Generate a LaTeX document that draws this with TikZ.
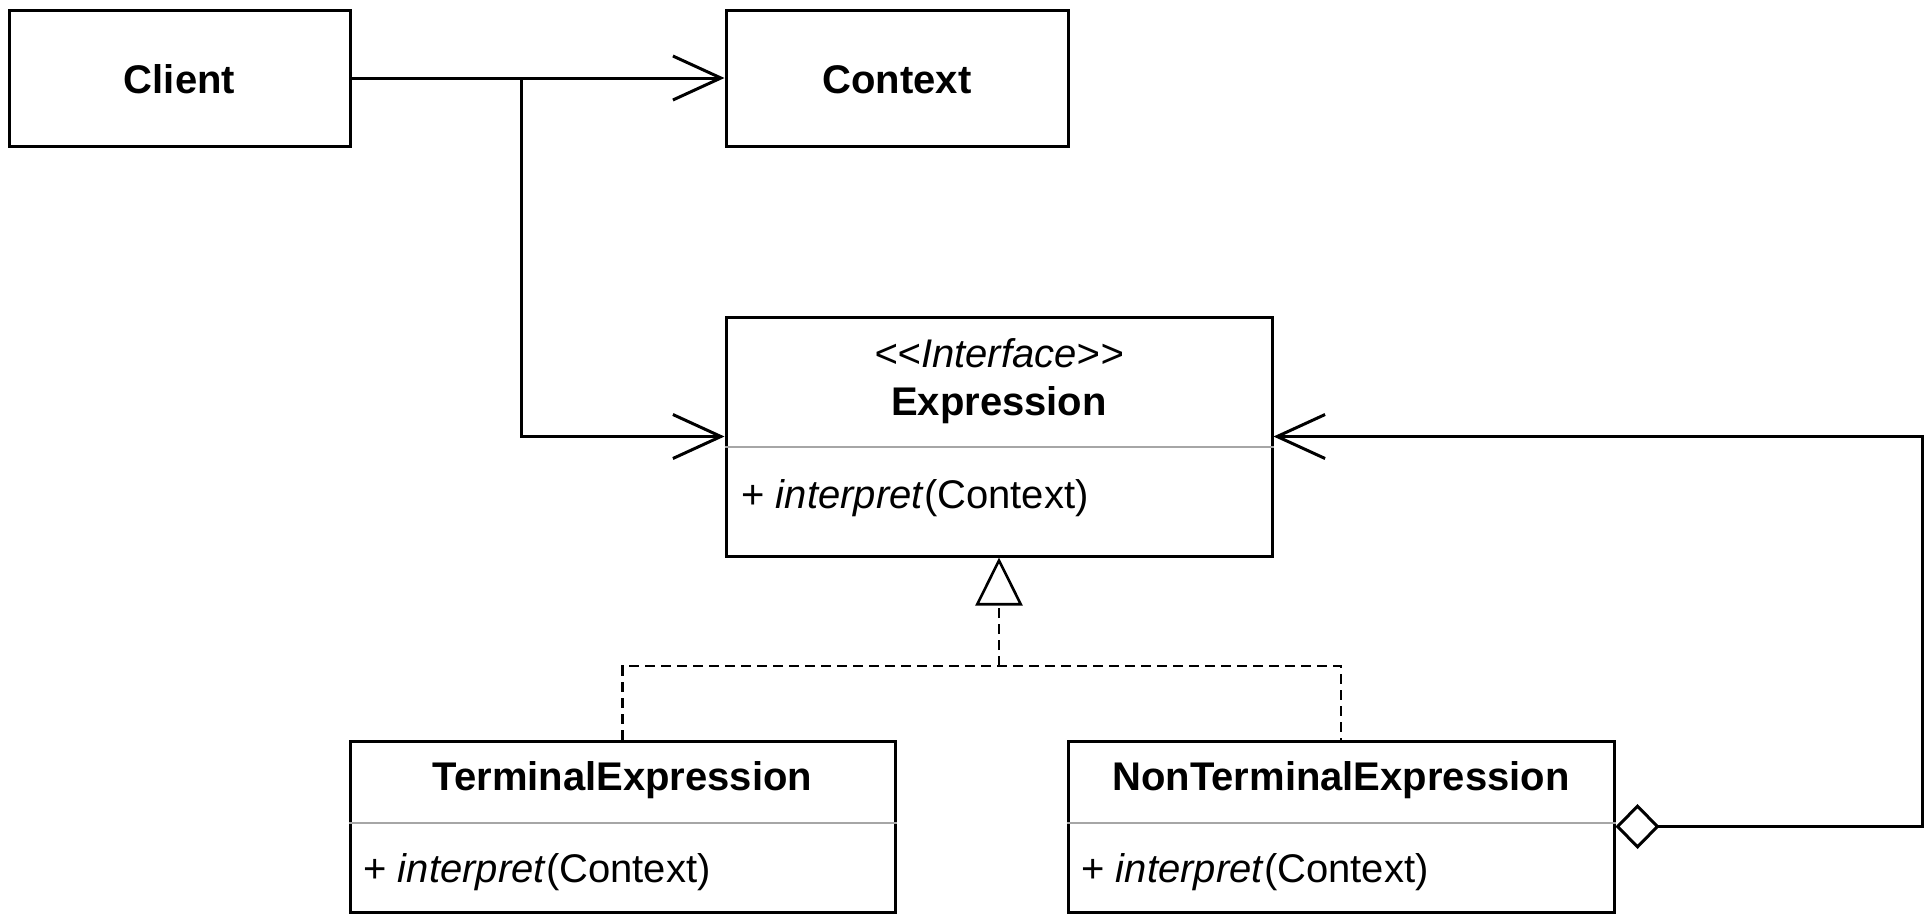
\documentclass[tikz,border=0pt]{standalone}
\usepackage{fontspec}
\setmainfont{Liberation Sans}
\usetikzlibrary{arrows.meta}

\begin{document}
\begin{tikzpicture}[x=0.5pt, y=-0.5pt, line width=1.5pt,
	classbox/.style={draw, shape=rectangle, inner sep=0pt},
	divider/.style={draw=gray!70, line width=1pt},
	title/.style={font=\fontsize{20}{24}\selectfont\bfseries, anchor=base, inner sep=0pt},
	member/.style={font=\fontsize{20}{24}\selectfont, anchor=base west, inner sep=0pt},
	assoc/.style={-{Straight Barb[length=24pt, width=22pt]}},
	realize/.style={dash pattern=on 5pt off 3pt, line width=1.3pt}]
	\useasboundingbox (0, 0) rectangle (1932, 922);
	% Boxes:
	\node[classbox, minimum width=170.5pt, minimum height=68pt] (client) at (179.5, 78){};
	\node[title] (client-name) at (179.5, 93){Client};
	\node[classbox, minimum width=171pt, minimum height=68pt] (context) at (897, 78){};
	\node[title] (context-name) at (897, 93){Context};
	\node[classbox, minimum width=273pt, minimum height=119.5pt] (expr) at (999, 436.5){};
	\node[title, font=\fontsize{20}{24}\selectfont\itshape] (expr-stereo) at (999, 367){{<}{<}Interface{>}{>}};
	\node[title] (expr-name) at (999, 415){Expression};
	\node[member] (expr-op) at (740, 508){+ \textit{interpret}(Context)};
	\node[classbox, minimum width=272.5pt, minimum height=85.5pt] (term) at (622.5, 826.5){};
	\node[title] (term-name) at (622.5, 790){TerminalExpression};
	\node[member] (term-op) at (362, 882){+ \textit{interpret}(Context)};
	\node[classbox, minimum width=273pt, minimum height=85.5pt] (nonterm) at (1341, 826.5){};
	\node[title] (nonterm-name) at (1341, 790){NonTerminalExpression};
	\node[member] (nonterm-op) at (1080, 882){+ \textit{interpret}(Context)};
	\draw[divider] (expr.west |- 0, 447) -- (expr.east |- 0, 447);
	\draw[divider] (term.west |- 0, 823) -- (term.east |- 0, 823);
	\draw[divider] (nonterm.west |- 0, 823) -- (nonterm.east |- 0, 823);
	% Wires:
	\coordinate (split) at (521, 78);
	\coordinate (joint) at (999, 666);
	\coordinate (loop) at (1922, 826.5);
	\draw[assoc] (client.east) -- (context.west);
	\draw[assoc] (split) |- (expr.west);
	\draw[{Diamond[open, length=22pt, width=22.5pt]}-{Straight Barb[length=24pt, width=22pt]}] (nonterm.east) -- (loop) |- (expr.east);
	\draw[realize, -{Triangle[open, length=24pt, width=23.5pt]}] (joint) -- (expr.south);
	\draw[realize] (term.north) |- (joint) -| (nonterm.north);
\end{tikzpicture}
\end{document}
